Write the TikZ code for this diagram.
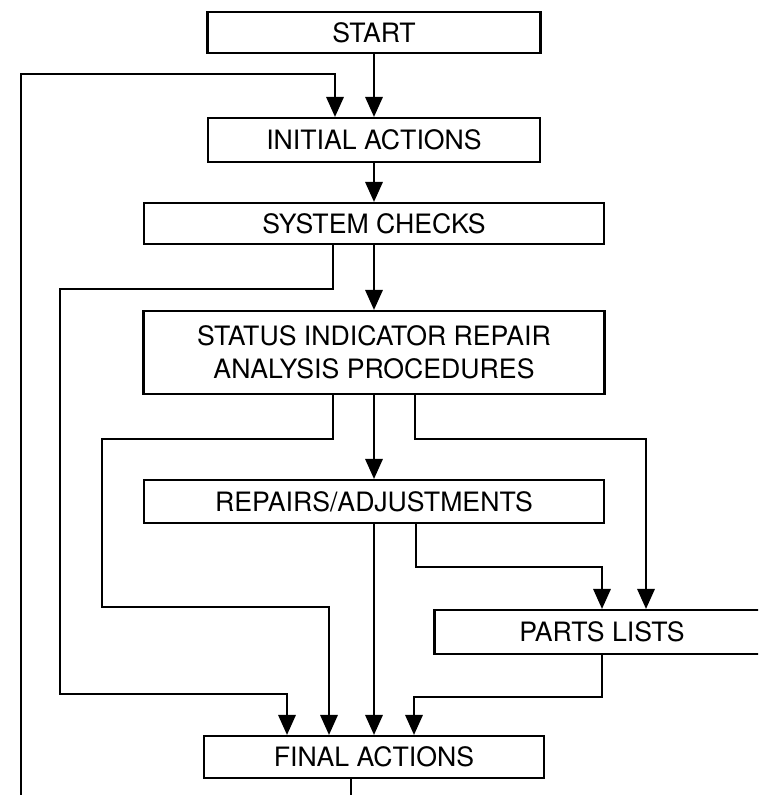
\documentclass[tikz,border=0pt]{standalone}
\usepackage{fontspec}
\setmainfont{TeX Gyre Heros}
\usetikzlibrary{arrows.meta,calc}

\begin{document}
\begin{tikzpicture}[x=0.75pt,y=0.75pt,yscale=-1,xscale=1,
    stepbox/.style={draw,line width=1.6pt,inner sep=0pt,align=center,font=\fontsize{20}{25}\selectfont},
    flow/.style={line width=1.7pt,-{Triangle[length=15pt,width=13pt]}}]
    %set diagram to the page: 758 wide, 795 high
    \useasboundingbox (0,0) rectangle (758,795);
    \clip (0,0) rectangle (758,795);

    % Boxes
    \node[stepbox,minimum width=249.75pt,minimum height=30.75pt] (start) at (374,32.5) {START};
    \node[stepbox,minimum width=249pt,minimum height=33pt] (init) at (374,140) {INITIAL ACTIONS};
    \node[stepbox,minimum width=345pt,minimum height=30.75pt] (sys) at (374,223.5) {SYSTEM CHECKS};
    \node[stepbox,minimum width=345.75pt,minimum height=62.25pt] (stat) at (374,352.5) {STATUS INDICATOR REPAIR\\ANALYSIS PROCEDURES};
    \node[stepbox,minimum width=345pt,minimum height=32.25pt] (rep) at (374,501.5) {REPAIRS/ADJUSTMENTS};
    \node[stepbox,minimum width=251.25pt,minimum height=33pt] (parts) at (602,632) {PARTS LISTS};
    \node[stepbox,minimum width=255pt,minimum height=31.5pt] (fin) at (374,757) {FINAL ACTIONS};

    % Main column
    \draw[flow] (start.south) -- (init.north);
    \draw[flow] (init.south) -- (sys.north);
    \draw[flow] (sys.south) -- (stat.north);
    \draw[flow] (stat.south) -- (rep.north);
    \draw[flow] (rep.south) -- (fin.north);

    % Side branches
    \draw[flow] ($(sys.south)+(-41,0)$) -- ++(0,44) -| (60,694) -| ($(fin.north)+(-87,0)$);
    \draw[flow] ($(stat.south)+(-41,0)$) -- ++(0,44) -| (102,607) -| ($(fin.north)+(-45,0)$);
    \draw[flow] ($(stat.south)+(41,0)$) -- ++(0,44) -| ($(parts.north)+(44,0)$);
    \draw[flow] ($(rep.south)+(42,0)$) -- ++(0,43) -| (parts.north);
    \draw[flow] (parts.south) -- ++(0,42) -| ($(fin.north)+(40,0)$);

    % Return loop
    \draw[flow] ($(fin.south)+(-23,0)$) -- ++(0,40) -| (21,74) -| ($(init.north)+(-39,0)$);
\end{tikzpicture}
\end{document}
